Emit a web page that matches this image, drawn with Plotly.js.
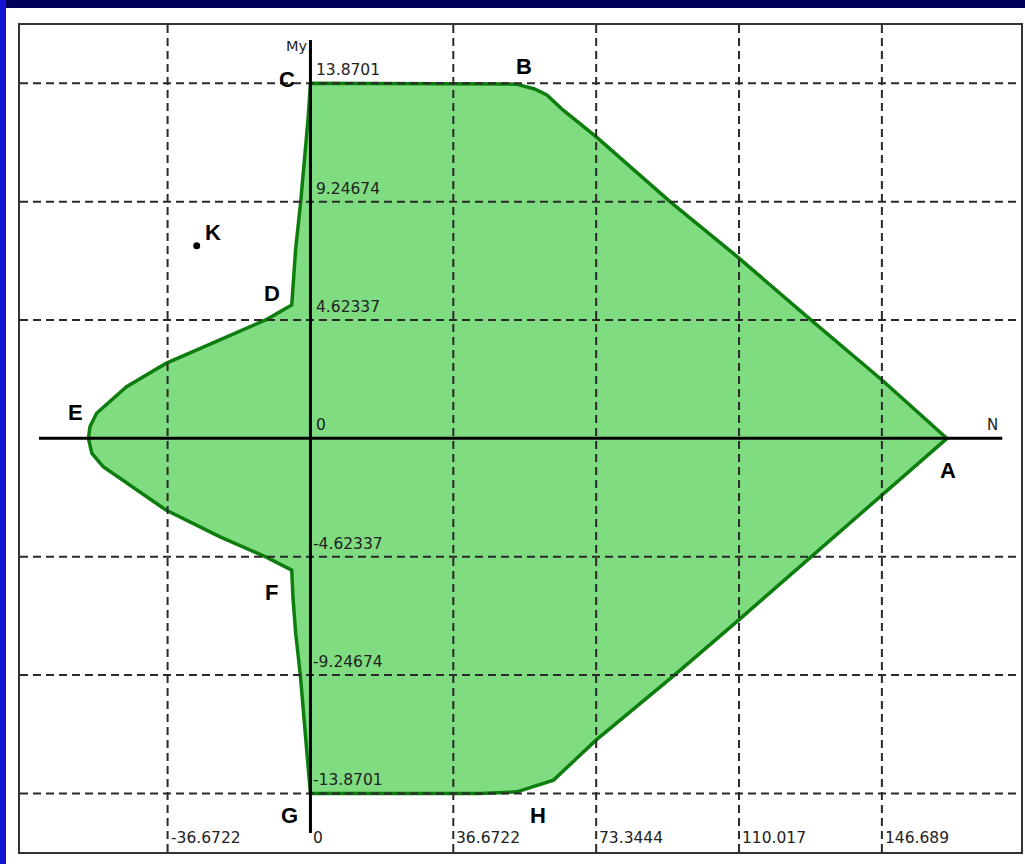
<!DOCTYPE html>
<html>
<head>
<meta charset="utf-8">
<script src="https://cdn.plot.ly/plotly-3.0.1.min.js"></script>
<style>
  html, body { margin: 0; padding: 0; background: #ffffff; width: 1025px; height: 864px; overflow: hidden; }
  #plot { position: absolute; left: 0; top: 0; width: 1025px; height: 864px; }
  #topband { position: absolute; left: 0; top: 0; width: 1025px; height: 8px; background: #00005c; z-index: 5; }
  #leftband { position: absolute; left: 0; top: 0; width: 6px; height: 864px; background: #1414d6; z-index: 5; }
</style>
</head>
<body>
<div id="plot"></div>
<div id="topband"></div>
<div id="leftband"></div>
<script>
// ---- Data ----
// Interaction diagram boundary, clockwise from C: N values
const boundaryN = [
  0, 43.5, 52.9, 57.5, 60.7, 64.8, 73.3, 92.3, 109.7, 128.3, 146.7,
  163.4,
  146.7, 128.3, 109.9, 93.2, 73.3, 62.4, 53.0, 43.5,
  0, -0.5, -1.3, -2.6, -3.8, -4.5,
  -4.8, -11.2, -23.2, -37.1, -53.2, -56.1,
  -57.0,
  -56.6, -54.9, -47.2, -37.1, -23.2, -11.2,
  -4.8, -4.5, -3.8, -2.5, -1.4, -0.6,
  0
];
// My values
const boundaryMy = [
  13.87, 13.87, 13.84, 13.65, 13.42, 12.83, 11.79, 9.25, 7.08, 4.65, 2.28,
  0,
  -2.22, -4.69, -7.10, -9.28, -11.79, -13.35, -13.81, -13.87,
  -13.87, -13.0, -11.5, -9.25, -7.6, -6.2,
  -5.15, -4.65, -3.85, -2.80, -1.11, -0.59,
  0,
  0.45, 0.98, 2.02, 2.93, 3.84, 4.65,
  5.21, 6.0, 7.4, 9.25, 11.0, 12.5,
  13.87
];
// Named vertices (index into boundary arrays)
const vertexNames = ['C', 'B', 'A', 'H', 'G', 'F', 'E', 'D'];
const vertexIndex = [0, 2, 11, 18, 20, 26, 32, 39];

// Point K
const pointKName = ['K'];
const pointKN = [-29.2];
const pointKMy = [7.53];

// Grid / tick values and labels
const xTickValues = [-36.6722, 0, 36.6722, 73.3444, 110.017, 146.689];
const xTickLabels = ['-36.6722', '0', '36.6722', '73.3444', '110.017', '146.689'];
const yTickValues = [13.8701, 9.24674, 4.62337, 0, -4.62337, -9.24674, -13.8701];
const yTickLabels = ['13.8701', '9.24674', '4.62337', '0', '-4.62337', '-9.24674', '-13.8701'];

// Axis titles
const xAxisName = 'N';
const yAxisName = 'My';

// ---- Layout settings ----
const xRange = [-74.56, 182.4];
const yRange = [-16.16, 16.15];
const xAxisExtent = [-69.7, 177.6];
const yAxisExtent = [-15.42, 15.56];

const labelOffsets = {
  C: [-23, 4], B: [7, 18], A: [1, -32], H: [21, -24],
  G: [-21, -22], F: [-20, -22], E: [-13, 26], D: [-20, 12]
};

const gridStyle = { color: '#2a2a2a', width: 2, dash: '8px,5px' };
const tickFont = { family: 'DejaVu Sans, Verdana, sans-serif', size: 15.5, color: '#222222' };
const letterFont = { family: 'Liberation Sans, Arial, sans-serif', size: 22, color: '#000000', weight: 'bold' };

const traces = [
  {
    x: boundaryN, y: boundaryMy,
    type: 'scatter', mode: 'lines',
    fill: 'toself', fillcolor: '#80dc80',
    line: { color: '#0d7d0d', width: 3.5 },
    hoverinfo: 'skip', showlegend: false
  },
  {
    x: pointKN, y: pointKMy,
    type: 'scatter', mode: 'markers',
    marker: { color: '#000000', size: 7 },
    hoverinfo: 'skip', showlegend: false
  }
];

const shapes = [];
xTickValues.forEach(v => {
  if (v === 0) return;
  shapes.push({ type: 'line', layer: 'above', xref: 'x', yref: 'paper', x0: v, x1: v, y0: 0, y1: 1,
    line: { color: gridStyle.color, width: gridStyle.width, dash: gridStyle.dash } });
});
yTickValues.forEach(v => {
  if (v === 0) return;
  shapes.push({ type: 'line', layer: 'above', xref: 'paper', yref: 'y', x0: 0, x1: 1, y0: v, y1: v,
    line: { color: gridStyle.color, width: gridStyle.width, dash: gridStyle.dash } });
});
// main axes
shapes.push({ type: 'line', layer: 'above', xref: 'x', yref: 'y', x0: xAxisExtent[0], x1: xAxisExtent[1], y0: 0, y1: 0,
  line: { color: '#000000', width: 3 } });
shapes.push({ type: 'line', layer: 'above', xref: 'x', yref: 'y', x0: 0, x1: 0, y0: yAxisExtent[0], y1: yAxisExtent[1],
  line: { color: '#000000', width: 3 } });

const annotations = [];
yTickValues.forEach((v, i) => {
  annotations.push({ xref: 'x', yref: 'y', x: 0, y: v, text: yTickLabels[i], showarrow: false,
    xanchor: 'left', yanchor: 'bottom', xshift: v < 0 ? 1 : 4, yshift: 2, font: tickFont });
});
xTickValues.forEach((v, i) => {
  annotations.push({ xref: 'x', yref: 'paper', x: v, y: 0, text: xTickLabels[i], showarrow: false,
    xanchor: 'left', yanchor: 'bottom', xshift: 1, yshift: 3, font: tickFont });
});
vertexNames.forEach((name, i) => {
  const k = vertexIndex[i];
  const off = labelOffsets[name];
  annotations.push({ xref: 'x', yref: 'y', x: boundaryN[k], y: boundaryMy[k], text: name, showarrow: false,
    xanchor: 'center', yanchor: 'middle', xshift: off[0], yshift: off[1], font: letterFont });
});
annotations.push({ xref: 'x', yref: 'y', x: pointKN[0], y: pointKMy[0], text: pointKName[0], showarrow: false,
  xanchor: 'center', yanchor: 'middle', xshift: 16, yshift: 13, font: letterFont });
annotations.push({ xref: 'x', yref: 'y', x: 0, y: yAxisExtent[1], text: yAxisName, showarrow: false,
  xanchor: 'center', yanchor: 'middle', xshift: -13, yshift: -6,
  font: { family: 'DejaVu Sans, sans-serif', size: 14.5, color: '#222222' } });
annotations.push({ xref: 'x', yref: 'y', x: xAxisExtent[1], y: 0, text: xAxisName, showarrow: false,
  xanchor: 'center', yanchor: 'middle', xshift: -10, yshift: 13,
  font: { family: 'DejaVu Sans, sans-serif', size: 15, color: '#222222' } });

const axisCommon = {
  showgrid: false, zeroline: false, showticklabels: false, ticks: '',
  showline: true, mirror: true, linecolor: '#333333', linewidth: 2, fixedrange: true
};

const layout = {
  width: 1025, height: 864,
  margin: { l: 20, r: 4, t: 25, b: 12, pad: 0 },
  paper_bgcolor: 'rgba(0,0,0,0)', plot_bgcolor: '#ffffff',
  xaxis: Object.assign({ range: xRange }, axisCommon),
  yaxis: Object.assign({ range: yRange }, axisCommon),
  shapes: shapes,
  annotations: annotations,
  showlegend: false
};

Plotly.newPlot('plot', traces, layout, { displayModeBar: false, staticPlot: true });
</script>
</body>
</html>
